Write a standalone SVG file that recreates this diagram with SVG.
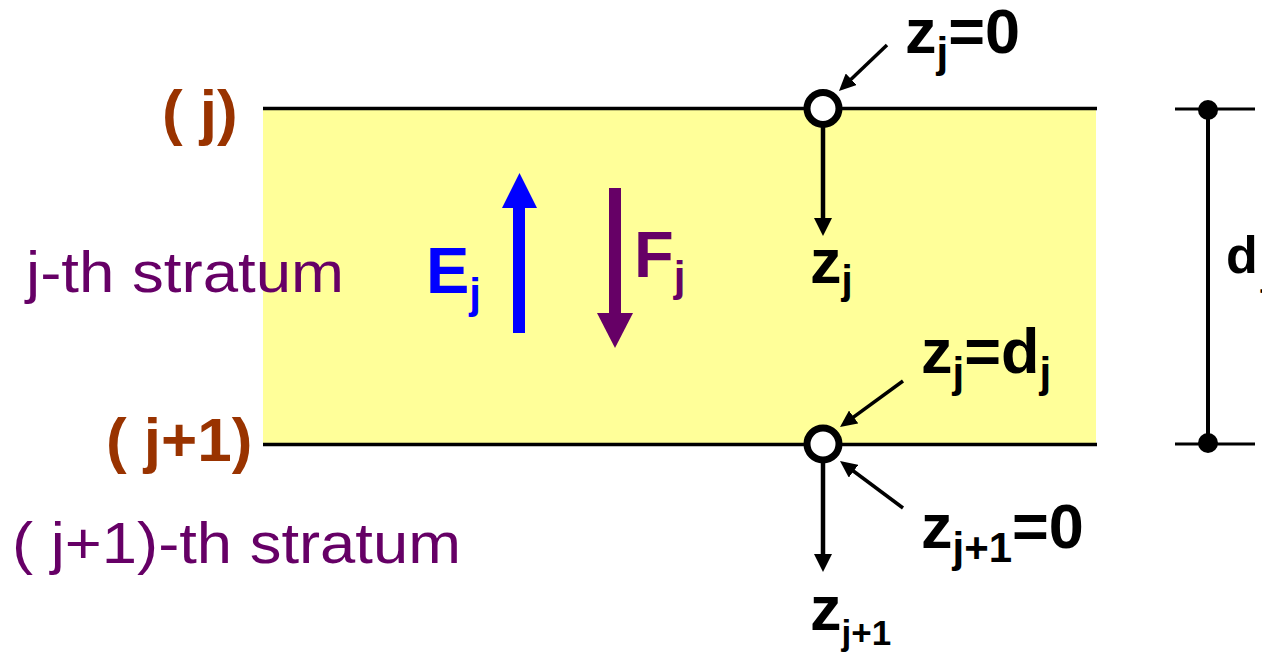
<svg xmlns="http://www.w3.org/2000/svg" width="1262" height="653" viewBox="0 0 1262 653">
<style>
.b{font-family:"Liberation Sans",Arial,sans-serif;font-weight:bold;fill:#000}
.r{font-family:"Liberation Sans",Arial,sans-serif;fill:#660066}
.br{font-family:"Liberation Sans",Arial,sans-serif;font-weight:bold;fill:#993300;font-size:62px}
.ln{stroke:#000;stroke-width:3.5;fill:none}
.ar{stroke:#000;stroke-width:4.5;fill:none;marker-end:url(#ah)}
.sa{stroke:#000;stroke-width:3.5;fill:none;marker-end:url(#sh)}
.node{fill:#fff;stroke:#000;stroke-width:7}
</style>
<defs>
<marker id="ah" markerUnits="userSpaceOnUse" markerWidth="18" markerHeight="18" viewBox="0 0 18 18" refX="2" refY="9" orient="auto">
<path d="M0,0 L18,9 L0,18 z" fill="#000"/>
</marker>
<marker id="sh" markerUnits="userSpaceOnUse" markerWidth="17" markerHeight="16" viewBox="0 0 17 16" refX="2" refY="8" orient="auto">
<path d="M0,0 L17,8 L0,16 z" fill="#000"/>
</marker>
</defs>
<rect width="1262" height="653" fill="#fff"/>
<g id="stratum">
<rect x="263" y="108" width="833" height="336" fill="#FFFF99"/>
<line class="ln" x1="263" y1="108.5" x2="1097" y2="108.5"/>
<line class="ln" x1="263" y1="444.5" x2="1097" y2="444.5"/>
</g>
<g id="labels-left">
<text class="br" x="162" y="133">( j)</text>
<text class="br" x="106" y="461">( j+1)</text>
<text class="r" x="26" y="292" font-size="58" textLength="318" lengthAdjust="spacingAndGlyphs">j-th stratum</text>
<text class="r" x="12" y="563" font-size="57" textLength="449" lengthAdjust="spacingAndGlyphs">( j+1)-th stratum</text>
</g>
<g id="E-arrow">
<rect x="513" y="206" width="12" height="127" fill="#0000FF"/>
<polygon points="502,208 537,208 519.5,173" fill="#0000FF"/>
<text x="426" y="293" font-family="Liberation Sans,Arial,sans-serif" font-weight="bold" font-size="65" fill="#0000FF">E<tspan font-size="42" dy="15">j</tspan></text>
</g>
<g id="F-arrow">
<rect x="609" y="188" width="12" height="127" fill="#660066"/>
<polygon points="597,313 633,313 615,348" fill="#660066"/>
<text x="634" y="277" font-family="Liberation Sans,Arial,sans-serif" font-weight="bold" font-size="65" fill="#660066">F<tspan font-size="42" dy="14">j</tspan></text>
</g>
<g id="connectors">
<line class="ar" x1="823" y1="124" x2="823" y2="220"/>
<line class="ar" x1="823" y1="460" x2="823" y2="556"/>
<line class="sa" x1="887" y1="45" x2="849.8" y2="80.6"/>
<line class="sa" x1="903" y1="381" x2="852.1" y2="418.2"/>
<line class="sa" x1="903" y1="508" x2="852" y2="470"/>
</g>
<g id="node-top">
<circle class="node" cx="823" cy="108.5" r="16"/>
<text class="b" x="905" y="53" font-size="63">z<tspan font-size="42" dy="14">j</tspan><tspan dy="-14">=0</tspan></text>
<text class="b" x="810" y="283" font-size="63">z<tspan font-size="40" dy="11">j</tspan></text>
</g>
<g id="node-bottom">
<circle class="node" cx="823" cy="444" r="16"/>
<text class="b" x="921" y="373" font-size="63">z<tspan font-size="42" dy="14">j</tspan><tspan dy="-14">=d</tspan><tspan font-size="42" dy="14">j</tspan></text>
<text class="b" x="921" y="548" font-size="63">z<tspan font-size="42" dy="14">j+1</tspan><tspan dy="-14">=0</tspan></text>
<text class="b" x="810" y="630" font-size="63">z<tspan font-size="35" dy="15">j+1</tspan></text>
</g>
<g id="dimension">
<line x1="1175" y1="109" x2="1255" y2="109" stroke="#000" stroke-width="3"/>
<line x1="1175" y1="444" x2="1255" y2="444" stroke="#000" stroke-width="3"/>
<line x1="1208" y1="110" x2="1208" y2="443" stroke="#000" stroke-width="4"/>
<circle cx="1208" cy="110" r="10" fill="#000"/>
<circle cx="1208" cy="443" r="10" fill="#000"/>
<text class="b" x="1226" y="273" font-size="52">d<tspan font-size="36" x="1261" dy="12">j</tspan></text>
</g>
</svg>
